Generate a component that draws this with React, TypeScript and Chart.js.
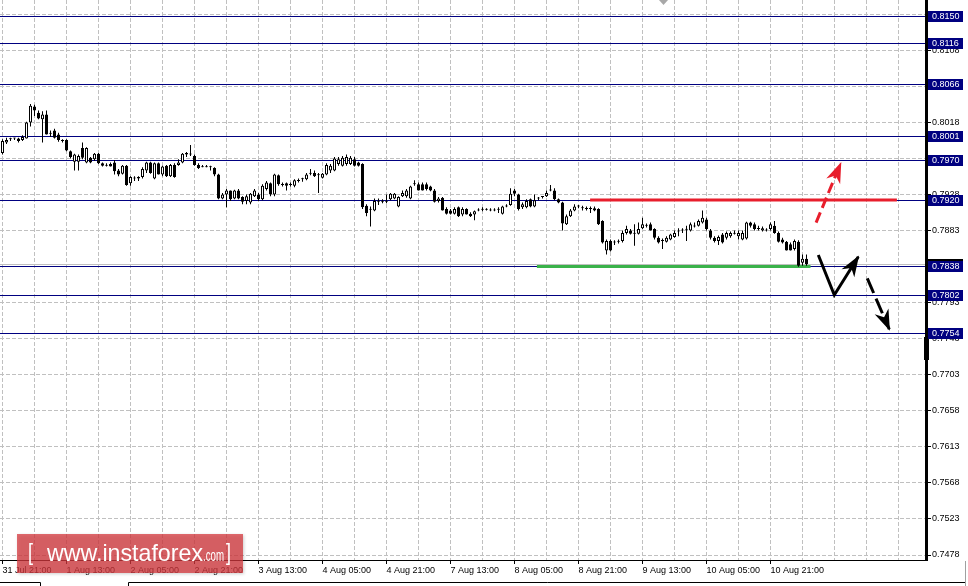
import React, { useEffect, useRef } from 'react';
import { Chart, registerables } from 'chart.js';

Chart.register(...registerables);

// ---- time axis (H1 bars, label every 16 bars) ----
const TIME_LABELS = [
  '31 Jul 21:00', '1 Aug 13:00', '2 Aug 05:00', '2 Aug 21:00', '3 Aug 13:00',
  '4 Aug 05:00', '4 Aug 21:00', '7 Aug 13:00', '8 Aug 05:00', '8 Aug 21:00',
  '9 Aug 13:00', '10 Aug 05:00', '10 Aug 21:00',
];
const BARS_PER_LABEL = 16;
const BARS_PER_GRID = 8;
const GRID_COUNT = 29;

// ---- OHLC ----
const OPEN = [
  0.7980, 0.7993, 0.7997, 0.7998, 0.7998, 0.7996, 0.7998, 0.8018, 0.8038, 0.8030,
  0.8022, 0.8028, 0.8005, 0.8008, 0.8003, 0.7996, 0.7996, 0.7982, 0.7969, 0.7969,
  0.7986, 0.7968, 0.7974, 0.7972, 0.7979, 0.7967, 0.7965, 0.7966, 0.7968, 0.7958,
  0.7954, 0.7964, 0.7942, 0.7949, 0.7948, 0.7950, 0.7958, 0.7968, 0.7948, 0.7967,
  0.7953, 0.7964, 0.7951, 0.7965, 0.7965, 0.7968, 0.7980, 0.7979, 0.7976, 0.7965,
  0.7963, 0.7962, 0.7963, 0.7961, 0.7953, 0.7923, 0.7928, 0.7933, 0.7923, 0.7933,
  0.7925, 0.7920, 0.7918, 0.7926, 0.7928, 0.7922, 0.7935, 0.7942, 0.7928, 0.7952,
  0.7941, 0.7942, 0.7941, 0.7939, 0.7946, 0.7947, 0.7947, 0.7954, 0.7955, 0.7953,
  0.7949, 0.7953, 0.7958, 0.7958, 0.7966, 0.7964, 0.7966, 0.7966, 0.7972, 0.7968,
  0.7966, 0.7914, 0.7910, 0.7908, 0.7920, 0.7920, 0.7919, 0.7922, 0.7923, 0.7913,
  0.7926, 0.7926, 0.7923, 0.7941, 0.7941, 0.7941, 0.7941, 0.7938, 0.7933, 0.7920,
  0.7924, 0.7910, 0.7908, 0.7904, 0.7912, 0.7903, 0.7910, 0.7904, 0.7903, 0.7908,
  0.7909, 0.7910, 0.7909, 0.7909, 0.7909, 0.7904, 0.7913, 0.7915, 0.7933, 0.7928,
  0.7912, 0.7912, 0.7922, 0.7913, 0.7923, 0.7925, 0.7926, 0.7933, 0.7933, 0.7922,
  0.7918, 0.7891, 0.7901, 0.7908, 0.7913, 0.7912, 0.7911, 0.7910, 0.7911, 0.7910,
  0.7895, 0.7858, 0.7870, 0.7868, 0.7869, 0.7870, 0.7880, 0.7883, 0.7880, 0.7879,
  0.7886, 0.7889, 0.7891, 0.7885, 0.7874, 0.7871, 0.7869, 0.7872, 0.7875, 0.7883,
  0.7883, 0.7885, 0.7883, 0.7889, 0.7889, 0.7893, 0.7897, 0.7883, 0.7874, 0.7870,
  0.7878, 0.7874, 0.7876, 0.7880, 0.7876, 0.7872, 0.7873, 0.7893, 0.7891, 0.7886,
  0.7883, 0.7883, 0.7885, 0.7889, 0.7880, 0.7872, 0.7869, 0.7866, 0.7860, 0.7869,
  0.7843, 0.7848,
];
const HIGH = [
  0.7997, 0.7999, 0.7999, 0.7999, 0.7999, 0.8002, 0.8019, 0.8041, 0.8040, 0.8033,
  0.8032, 0.8033, 0.8008, 0.8010, 0.8005, 0.7997, 0.7997, 0.7983, 0.7979, 0.7978,
  0.7993, 0.7987, 0.7975, 0.7980, 0.7980, 0.7968, 0.7967, 0.7968, 0.7971, 0.7960,
  0.7965, 0.7965, 0.7951, 0.7951, 0.7951, 0.7962, 0.7969, 0.7969, 0.7968, 0.7968,
  0.7964, 0.7965, 0.7966, 0.7967, 0.7972, 0.7980, 0.7981, 0.7990, 0.7978, 0.7967,
  0.7965, 0.7965, 0.7964, 0.7962, 0.7954, 0.7930, 0.7935, 0.7933, 0.7934, 0.7935,
  0.7926, 0.7928, 0.7930, 0.7935, 0.7930, 0.7941, 0.7945, 0.7943, 0.7954, 0.7953,
  0.7943, 0.7943, 0.7943, 0.7947, 0.7948, 0.7949, 0.7955, 0.7960, 0.7958, 0.7955,
  0.7955, 0.7967, 0.7966, 0.7975, 0.7975, 0.7976, 0.7978, 0.7976, 0.7975, 0.7969,
  0.7967, 0.7916, 0.7913, 0.7923, 0.7923, 0.7922, 0.7928, 0.7930, 0.7930, 0.7926,
  0.7933, 0.7935, 0.7939, 0.7946, 0.7943, 0.7943, 0.7943, 0.7939, 0.7935, 0.7925,
  0.7925, 0.7912, 0.7910, 0.7912, 0.7913, 0.7912, 0.7911, 0.7906, 0.7908, 0.7911,
  0.7912, 0.7911, 0.7911, 0.7911, 0.7912, 0.7914, 0.7916, 0.7936, 0.7935, 0.7929,
  0.7918, 0.7922, 0.7923, 0.7928, 0.7925, 0.7926, 0.7933, 0.7940, 0.7936, 0.7923,
  0.7919, 0.7903, 0.7910, 0.7916, 0.7915, 0.7914, 0.7913, 0.7913, 0.7913, 0.7911,
  0.7896, 0.7872, 0.7872, 0.7871, 0.7872, 0.7883, 0.7889, 0.7885, 0.7891, 0.7893,
  0.7899, 0.7892, 0.7893, 0.7886, 0.7876, 0.7873, 0.7876, 0.7879, 0.7883, 0.7886,
  0.7886, 0.7889, 0.7893, 0.7893, 0.7897, 0.7908, 0.7899, 0.7885, 0.7876, 0.7877,
  0.7880, 0.7882, 0.7882, 0.7883, 0.7883, 0.7883, 0.7894, 0.7894, 0.7893, 0.7889,
  0.7888, 0.7886, 0.7893, 0.7895, 0.7882, 0.7874, 0.7870, 0.7868, 0.7872, 0.7871,
  0.7853, 0.7853,
];
const LOW = [
  0.7978, 0.7991, 0.7995, 0.7996, 0.7993, 0.7995, 0.7998, 0.8013, 0.8026, 0.8022,
  0.7993, 0.8003, 0.8000, 0.7998, 0.7994, 0.7993, 0.7982, 0.7973, 0.7958, 0.7958,
  0.7972, 0.7967, 0.7967, 0.7970, 0.7966, 0.7963, 0.7963, 0.7963, 0.7953, 0.7951,
  0.7953, 0.7939, 0.7939, 0.7945, 0.7945, 0.7948, 0.7955, 0.7954, 0.7947, 0.7953,
  0.7951, 0.7950, 0.7950, 0.7949, 0.7964, 0.7967, 0.7975, 0.7976, 0.7964, 0.7960,
  0.7962, 0.7962, 0.7958, 0.7951, 0.7922, 0.7922, 0.7912, 0.7920, 0.7922, 0.7922,
  0.7916, 0.7916, 0.7916, 0.7925, 0.7920, 0.7921, 0.7933, 0.7926, 0.7926, 0.7939,
  0.7938, 0.7933, 0.7938, 0.7937, 0.7943, 0.7944, 0.7946, 0.7952, 0.7950, 0.7930,
  0.7948, 0.7952, 0.7955, 0.7957, 0.7964, 0.7963, 0.7964, 0.7965, 0.7963, 0.7963,
  0.7910, 0.7901, 0.7888, 0.7907, 0.7915, 0.7917, 0.7917, 0.7921, 0.7922, 0.7912,
  0.7925, 0.7924, 0.7922, 0.7939, 0.7933, 0.7933, 0.7933, 0.7932, 0.7918, 0.7918,
  0.7908, 0.7903, 0.7903, 0.7903, 0.7900, 0.7901, 0.7903, 0.7900, 0.7896, 0.7907,
  0.7907, 0.7908, 0.7907, 0.7907, 0.7905, 0.7903, 0.7912, 0.7914, 0.7926, 0.7908,
  0.7910, 0.7911, 0.7912, 0.7912, 0.7921, 0.7923, 0.7925, 0.7932, 0.7921, 0.7917,
  0.7883, 0.7890, 0.7900, 0.7907, 0.7911, 0.7908, 0.7908, 0.7905, 0.7907, 0.7890,
  0.7867, 0.7853, 0.7857, 0.7865, 0.7867, 0.7868, 0.7878, 0.7878, 0.7864, 0.7878,
  0.7885, 0.7887, 0.7883, 0.7872, 0.7867, 0.7860, 0.7868, 0.7871, 0.7874, 0.7876,
  0.7880, 0.7870, 0.7882, 0.7887, 0.7888, 0.7892, 0.7883, 0.7872, 0.7868, 0.7865,
  0.7867, 0.7872, 0.7874, 0.7878, 0.7872, 0.7871, 0.7872, 0.7887, 0.7883, 0.7883,
  0.7882, 0.7882, 0.7883, 0.7879, 0.7868, 0.7867, 0.7858, 0.7858, 0.7858, 0.7838,
  0.7839, 0.7839,
];
const CLOSE = [
  0.7995, 0.7996, 0.7998, 0.7998, 0.7995, 0.8000, 0.8018, 0.8039, 0.8033, 0.8023,
  0.8028, 0.8003, 0.8004, 0.7999, 0.7996, 0.7995, 0.7983, 0.7975, 0.7978, 0.7976,
  0.7974, 0.7986, 0.7968, 0.7979, 0.7967, 0.7964, 0.7964, 0.7963, 0.7957, 0.7953,
  0.7964, 0.7940, 0.7950, 0.7948, 0.7950, 0.7960, 0.7968, 0.7955, 0.7967, 0.7953,
  0.7963, 0.7951, 0.7965, 0.7950, 0.7968, 0.7979, 0.7978, 0.7978, 0.7965, 0.7961,
  0.7962, 0.7963, 0.7962, 0.7953, 0.7923, 0.7928, 0.7933, 0.7922, 0.7933, 0.7923,
  0.7919, 0.7926, 0.7929, 0.7933, 0.7922, 0.7939, 0.7943, 0.7928, 0.7953, 0.7941,
  0.7940, 0.7939, 0.7940, 0.7946, 0.7945, 0.7948, 0.7953, 0.7955, 0.7951, 0.7952,
  0.7954, 0.7965, 0.7964, 0.7973, 0.7972, 0.7974, 0.7975, 0.7974, 0.7964, 0.7964,
  0.7912, 0.7905, 0.7909, 0.7920, 0.7919, 0.7919, 0.7920, 0.7929, 0.7929, 0.7925,
  0.7930, 0.7933, 0.7938, 0.7942, 0.7933, 0.7933, 0.7935, 0.7933, 0.7919, 0.7923,
  0.7908, 0.7904, 0.7904, 0.7910, 0.7901, 0.7910, 0.7903, 0.7901, 0.7907, 0.7909,
  0.7910, 0.7909, 0.7908, 0.7908, 0.7910, 0.7913, 0.7914, 0.7929, 0.7929, 0.7910,
  0.7916, 0.7920, 0.7913, 0.7921, 0.7924, 0.7926, 0.7930, 0.7934, 0.7922, 0.7918,
  0.7892, 0.7901, 0.7908, 0.7913, 0.7914, 0.7911, 0.7910, 0.7910, 0.7908, 0.7891,
  0.7868, 0.7870, 0.7858, 0.7869, 0.7870, 0.7880, 0.7885, 0.7879, 0.7879, 0.7885,
  0.7891, 0.7890, 0.7883, 0.7874, 0.7868, 0.7870, 0.7874, 0.7878, 0.7880, 0.7882,
  0.7884, 0.7884, 0.7891, 0.7888, 0.7895, 0.7899, 0.7885, 0.7874, 0.7870, 0.7875,
  0.7868, 0.7880, 0.7880, 0.7879, 0.7880, 0.7880, 0.7893, 0.7889, 0.7885, 0.7885,
  0.7886, 0.7884, 0.7891, 0.7880, 0.7869, 0.7868, 0.7858, 0.7858, 0.7870, 0.7839,
  0.7848, 0.7841,
];

// ---- price axis ticks ----
const Y_TICKS = [
  0.7478, 0.7523, 0.7568, 0.7613, 0.7658, 0.7703, 0.7748, 0.7793,
  0.7838, 0.7883, 0.7928, 0.7973, 0.8018, 0.8063, 0.8108, 0.8153,
];

// ---- horizontal levels & bid ----
const LEVELS = [0.8150, 0.8116, 0.8066, 0.8001, 0.7970, 0.7920, 0.7838, 0.7802, 0.7754];
const BID = 0.7841;

// ---- drawn objects (bar index, price) ----
const RED_LINE = [{ x: 146.9, y: 0.79212 }, { x: 223.6, y: 0.79212 }];
const GREEN_LINE = [{ x: 133.6, y: 0.78382 }, { x: 202.0, y: 0.78382 }];
const ARROW_UP = [{ x: 203.4, y: 0.7893 }, { x: 209.55, y: 0.7967 }];
const ARROW_BOUNCE = [{ x: 203.95, y: 0.78525 }, { x: 207.95, y: 0.78026 }, { x: 213.95, y: 0.78504 }];
const ARROW_DOWN = [{ x: 216.2, y: 0.78234 }, { x: 221.7, y: 0.77598 }];

const X_MIN = -0.625;
const X_MAX = 230.875;
const Y_MIN = 0.747176;
const Y_MAX = 0.817088;

const RED = 'rgb(232,30,44)';
const GREEN = 'rgb(58,178,74)';
const NAVY = '#000080';
const GRID = '#c0c0c0';
const FONT = 'Liberation Sans';

function fitText(ctx: CanvasRenderingContext2D, text: string, x: number, y: number, font: string, width: number) {
  ctx.font = font;
  const w = ctx.measureText(text).width;
  ctx.save();
  ctx.translate(x, y);
  ctx.scale(width / w, 1);
  ctx.fillText(text, 0, 0);
  ctx.restore();
}

const overlayPlugin = {
  id: 'mtOverlay',
  beforeDatasetsDraw(chart: any) {
    const { ctx, chartArea: a, scales } = chart;
    const y = scales.y;
    ctx.save();
    ctx.lineWidth = 1;
    const by = Math.floor(y.getPixelForValue(BID)) + 0.5;
    ctx.strokeStyle = GRID;
    ctx.beginPath();
    ctx.moveTo(a.left, by);
    ctx.lineTo(a.right, by);
    ctx.stroke();
    ctx.strokeStyle = NAVY;
    LEVELS.forEach((v) => {
      const py = Math.floor(y.getPixelForValue(v)) + 0.5;
      ctx.beginPath();
      ctx.moveTo(a.left, py);
      ctx.lineTo(a.right, py);
      ctx.stroke();
    });
    ctx.restore();
  },
  afterDatasetsDraw(chart: any) {
    const { ctx, scales } = chart;
    const heads = [
      { pts: ARROW_UP, color: RED },
      { pts: ARROW_BOUNCE, color: '#000' },
      { pts: ARROW_DOWN, color: '#000' },
    ];
    ctx.save();
    heads.forEach(({ pts, color }) => {
      const p1 = pts[pts.length - 2];
      const p2 = pts[pts.length - 1];
      const x1 = scales.x.getPixelForValue(p1.x);
      const y1 = scales.y.getPixelForValue(p1.y);
      const x2 = scales.x.getPixelForValue(p2.x);
      const y2 = scales.y.getPixelForValue(p2.y);
      const len = Math.hypot(x2 - x1, y2 - y1);
      const dx = (x2 - x1) / len;
      const dy = (y2 - y1) / len;
      const tx = x2 + dx * 1.5;
      const ty = y2 + dy * 1.5;
      const L = 21;
      const W = 7.5;
      const bx = tx - dx * L;
      const by = ty - dy * L;
      const nx = tx - dx * L * 0.7;
      const ny = ty - dy * L * 0.7;
      ctx.fillStyle = color;
      ctx.beginPath();
      ctx.moveTo(tx, ty);
      ctx.lineTo(bx - dy * W, by + dx * W);
      ctx.lineTo(nx, ny);
      ctx.lineTo(bx + dy * W, by - dx * W);
      ctx.closePath();
      ctx.fill();
    });
    ctx.restore();
  },
  afterDraw(chart: any) {
    const { ctx, chartArea: a, scales } = chart;
    const y = scales.y;
    ctx.save();
    // frame: right price-axis line and bottom time-axis line
    ctx.fillStyle = '#000';
    ctx.fillRect(a.right - 1, a.top, 3, a.bottom - a.top + 1);
    ctx.fillRect(a.left, a.bottom, a.right - a.left, 1);
    // axis scroll marker
    ctx.fillRect(a.right - 2, 337, 5, 23);
    // bid label (mostly hidden)
    const byc = Math.floor(y.getPixelForValue(BID));
    ctx.fillStyle = '#000';
    ctx.fillRect(a.right + 2, byc - 5, 35, 11);
    ctx.fillStyle = '#fff';
    ctx.font = `9px "${FONT}"`;
    ctx.textBaseline = 'middle';
    ctx.textAlign = 'left';
    ctx.fillText(BID.toFixed(4), a.right + 6, byc + 0.5);
    // level labels
    LEVELS.forEach((v) => {
      const py = Math.floor(y.getPixelForValue(v));
      ctx.fillStyle = NAVY;
      ctx.fillRect(a.right + 2, py - 5, 35, 11);
      ctx.fillStyle = '#fff';
      ctx.fillText(v.toFixed(4), a.right + 6, py + 0.5);
    });
    // shift marker triangle
    ctx.fillStyle = '#a8a8a8';
    ctx.beginPath();
    ctx.moveTo(659, 0);
    ctx.lineTo(668, 0);
    ctx.lineTo(663.5, 5);
    ctx.closePath();
    ctx.fill();
    // bottom tab strip
    ctx.strokeStyle = '#000';
    ctx.lineWidth = 1;
    ctx.beginPath();
    ctx.moveTo(0, 582.5); ctx.lineTo(40.5, 582.5); ctx.lineTo(40.5, 586);
    ctx.moveTo(128.5, 586); ctx.lineTo(128.5, 582.5); ctx.lineTo(966, 582.5);
    ctx.stroke();
    ctx.strokeStyle = '#a0a0a0';
    ctx.beginPath();
    ctx.moveTo(965.5, 561); ctx.lineTo(965.5, 586);
    ctx.stroke();
    // watermark
    ctx.shadowColor = 'rgba(0,0,0,0.25)';
    ctx.shadowBlur = 3;
    ctx.shadowOffsetX = 1;
    ctx.shadowOffsetY = 1;
    ctx.fillStyle = 'rgba(214,56,62,0.75)';
    ctx.fillRect(17, 534, 226, 39);
    ctx.shadowColor = 'transparent';
    ctx.fillStyle = '#ffffff';
    ctx.textBaseline = 'alphabetic';
    fitText(ctx, '[', 28, 560, `24px "${FONT}"`, 5);
    fitText(ctx, 'www.instaforex', 47, 561, `24px "${FONT}"`, 156);
    fitText(ctx, '.com', 203, 561, `17px "${FONT}"`, 21);
    fitText(ctx, ']', 226, 560, `24px "${FONT}"`, 5);
    ctx.restore();
  },
};

export default function App() {
  const ref = useRef<HTMLCanvasElement>(null);
  useEffect(() => {
    const idx = OPEN.map((_, i) => i);
    const bodies = idx.map((i) => ({ x: i, y: [OPEN[i], CLOSE[i]] }));
    const wicks = idx.map((i) => ({ x: i, y: [LOW[i], HIGH[i]] }));
    const bodyFill = idx.map((i) => (CLOSE[i] > OPEN[i] ? '#ffffff' : '#000000'));
    const gridTicks = Array.from({ length: GRID_COUNT }, (_, k) => k * BARS_PER_GRID);
    const isLabelled = (v: number) => v % BARS_PER_LABEL === 0 && v / BARS_PER_LABEL < TIME_LABELS.length;

    const chart = new Chart(ref.current as HTMLCanvasElement, {
      type: 'bar',
      data: {
        datasets: [
          { type: 'line', data: ARROW_UP, borderColor: RED, borderWidth: 3, borderDash: [11, 5], pointRadius: 0, order: 0 },
          { type: 'line', data: ARROW_BOUNCE, borderColor: '#000', borderWidth: 3, pointRadius: 0, order: 0 },
          { type: 'line', data: ARROW_DOWN, borderColor: '#000', borderWidth: 3, borderDash: [16, 6], pointRadius: 0, order: 0 },
          {
            type: 'bar', data: bodies, backgroundColor: bodyFill, borderColor: '#000', borderWidth: 1,
            borderSkipped: false, barThickness: 3, grouped: false, minBarLength: 1, inflateAmount: 0, order: 1,
          },
          {
            type: 'bar', data: wicks, backgroundColor: '#000', borderWidth: 0,
            barThickness: 1, grouped: false, inflateAmount: 0, order: 2,
          },
          { type: 'line', data: RED_LINE, borderColor: RED, borderWidth: 3, pointRadius: 0, order: 3 },
          { type: 'line', data: GREEN_LINE, borderColor: GREEN, borderWidth: 3, pointRadius: 0, order: 4 },
        ] as any,
      },
      options: {
        animation: false,
        responsive: false,
        devicePixelRatio: 1,
        events: [],
        layout: { padding: 0 },
        plugins: { legend: { display: false }, tooltip: { enabled: false } },
        scales: {
          x: {
            type: 'linear',
            min: X_MIN,
            max: X_MAX,
            offset: false,
            afterBuildTicks: (s: any) => { s.ticks = gridTicks.map((v) => ({ value: v })); },
            afterFit: (s: any) => { s.height = 26; s.paddingLeft = 0; s.paddingRight = 0; },
            grid: {
              offset: false,
              color: GRID,
              lineWidth: 1,
              drawTicks: true,
              tickLength: 4,
              tickWidth: 1,
              tickColor: (c: any) => (c.tick && isLabelled(c.tick.value) ? '#000' : 'rgba(0,0,0,0)'),
            },
            border: { display: false, dash: [4, 2] },
            ticks: {
              autoSkip: false,
              maxRotation: 0,
              minRotation: 0,
              align: 'start',
              padding: 1,
              color: '#000',
              font: { family: FONT, size: 9 },
              callback: (v: any) => (isLabelled(Number(v)) ? TIME_LABELS[Number(v) / BARS_PER_LABEL] : ''),
            },
          },
          y: {
            type: 'linear',
            position: 'right',
            min: Y_MIN,
            max: Y_MAX,
            afterBuildTicks: (s: any) => { s.ticks = Y_TICKS.map((v) => ({ value: v })); },
            afterFit: (s: any) => { s.width = 42; s.paddingTop = 0; s.paddingBottom = 0; },
            grid: { color: GRID, lineWidth: 1, drawTicks: true, tickLength: 5, tickColor: '#000', tickWidth: 1 },
            border: { display: false, dash: [4, 2] },
            ticks: {
              padding: 1,
              color: '#000',
              font: { family: FONT, size: 9 },
              callback: (v: any) => Number(v).toFixed(4),
            },
          },
        },
      } as any,
      plugins: [overlayPlugin],
    });
    return () => chart.destroy();
  }, []);

  return (
    <div style={{ position: 'fixed', left: 0, top: 0, width: 968, height: 586, background: '#fff' }}>
      <canvas ref={ref} width={968} height={586} style={{ display: 'block', width: 968, height: 586 }} />
    </div>
  );
}
